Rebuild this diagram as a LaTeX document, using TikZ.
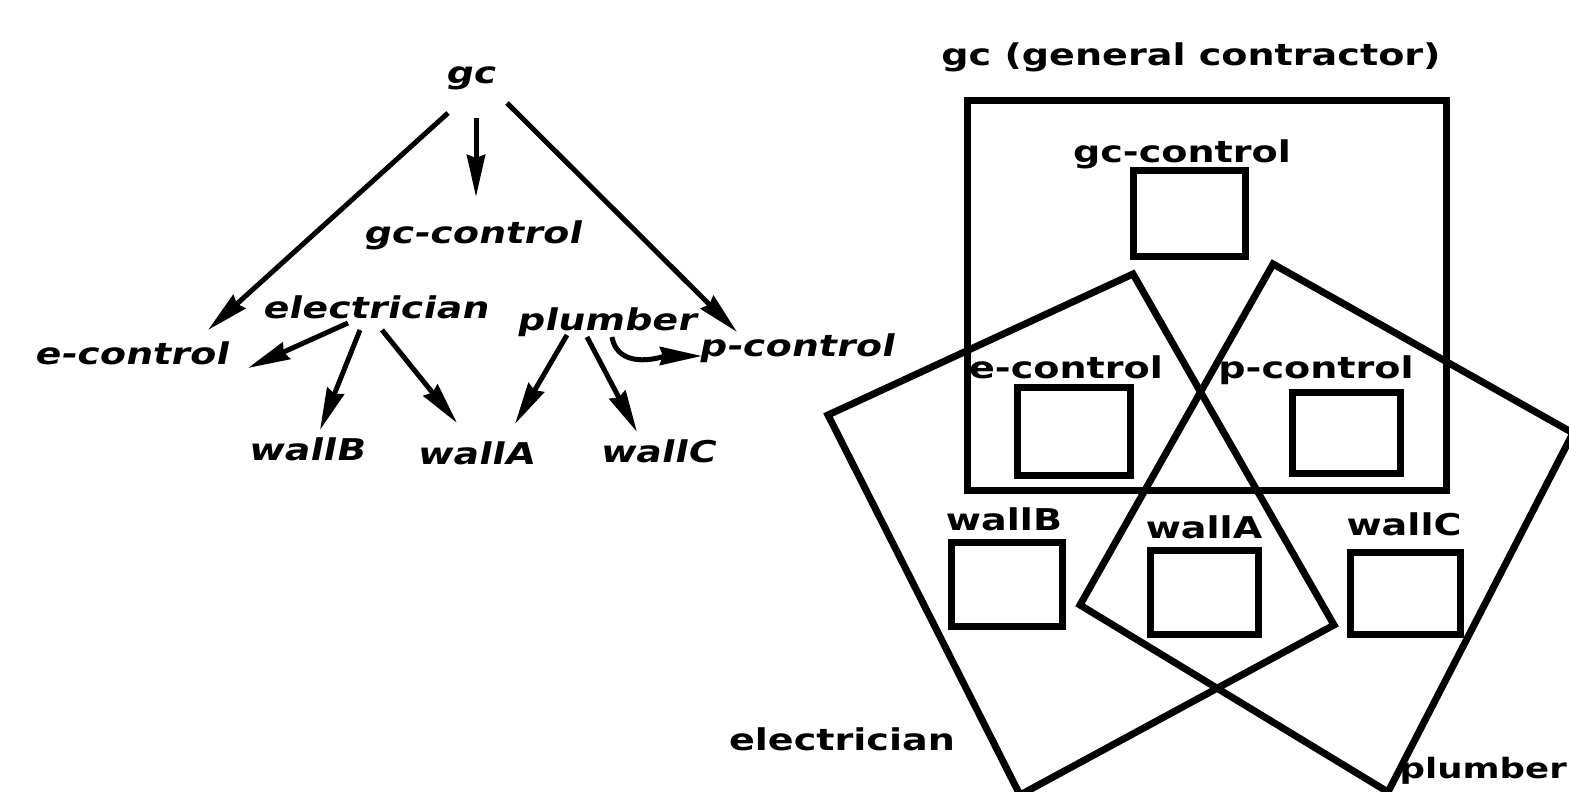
\documentclass[tikz,border=0pt]{standalone}
\usepackage{fontspec}
\usetikzlibrary{arrows.meta,calc}
\newfontfamily\lblfont[FakeStretch=1.27]{DejaVu Sans Bold}
\newfontfamily\itlfont[FakeStretch=1.27,FakeSlant=0.2]{DejaVu Sans Bold}
\begin{document}
\begin{tikzpicture}[x=1pt,y=-1pt,
  lbl/.style={font=\lblfont\fontsize{30}{36}\selectfont, inner sep=0pt, anchor=base},
  itl/.style={font=\itlfont\fontsize{30}{36}\selectfont, inner sep=0pt, anchor=base},
  arr/.style={line width=5pt, -{Stealth[length=42pt,width=18pt,inset=3pt]}},
  box/.style={draw, line width=7pt, inner sep=0pt},
  quad/.style={draw, line width=7pt, line join=miter}]
\useasboundingbox (0,0) rectangle (1569,792);
% ---------- left tree ----------
\node[itl] (gc)    at (470,84)  {gc};
\node[itl] (gcc)   at (472,243) {gc-control};
\node[itl] (elec)  at (375,318) {electrician};
\node[itl] (plum)  at (606,330) {plumber};
\node[itl] (ectl)  at (131,364) {e-control};
\node[itl] (pctl)  at (796,356) {p-control};
\node[itl] (wB)    at (306,460) {wallB};
\node[itl] (wA)    at (475,464) {wallA};
\node[itl] (wC)    at (657,462) {wallC};
\draw[arr] ($(gc.base)+(-22,29)$) -- ($(ectl.base)+(77,-34)$);
\draw[arr] ($(gc.base)+(6,34)$) -- ($(gcc.base)+(4,-46)$);
\draw[arr] ($(gc.base)+(37,19)$) -- ($(pctl.base)+(-59,-24)$);
\draw[arr] ($(elec.base)+(-27,5)$) -- ($(ectl.base)+(117,4)$);
\draw[arr] ($(elec.base)+(-15,12)$) -- ($(wB.base)+(14,-30)$);
\draw[arr] ($(elec.base)+(7,12)$) -- ($(wA.base)+(-18,-41)$);
\draw[arr] ($(plum.base)+(-39,5)$) -- ($(wA.base)+(40,-40)$);
\draw[arr] ($(plum.base)+(-19,7)$) -- ($(wC.base)+(-20,-30)$);
\draw[arr] ($(plum.base)+(6,7)$) to[out=-80,in=180] ($(pctl.base)+(-94,0)$);
% ---------- right diagram ----------
\node[lbl] (hdr)  at (1191,66)  {gc (general contractor)};
\node[box, minimum width=479pt, minimum height=390pt] (big) at (1206.5,295) {};
\node[lbl] (rgcl) at (1182,162) {gc-control};
\node[box, minimum width=112pt, minimum height=86pt] (rgc) at (1189,213) {};
\node[lbl] (recl) at (1066,378) {e-control};
\node[box, minimum width=113pt, minimum height=88pt] (rec) at (1073.5,431) {};
\node[lbl] (rpcl) at (1316,378) {p-control};
\node[box, minimum width=108pt, minimum height=81pt] (rpc) at (1346,432.5) {};
\node[lbl] (rwBl) at (1004,530) {wallB};
\node[box, minimum width=111pt, minimum height=84pt] (rwB) at (1006.5,584) {};
\node[lbl] (rwAl) at (1204,538) {wallA};
\node[box, minimum width=108pt, minimum height=84pt] (rwA) at (1204,592) {};
\node[lbl] (rwCl) at (1404,535) {wallC};
\node[box, minimum width=110pt, minimum height=82pt] (rwC) at (1405,593) {};
\draw[quad] (828,415) -- (1133,274) -- (1334,625) -- (1020,795) -- cycle;
\draw[quad] (1273,264) -- (1573,433) -- (1388,792) -- (1080,605) -- cycle;
\node[lbl] (relec) at (842,750) {electrician};
\node[lbl, font=\lblfont\fontsize{28}{34}\selectfont, anchor=base east] (rplum) at (1567,778) {plumber};
\end{tikzpicture}
\end{document}
